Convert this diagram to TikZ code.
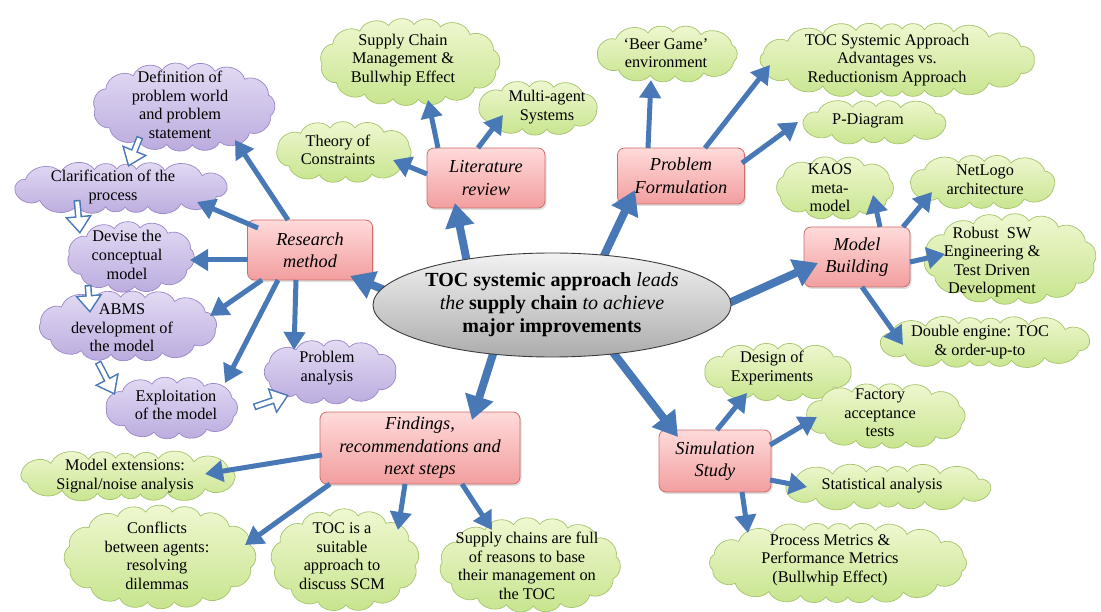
\documentclass[tikz,border=0pt]{standalone}
\usepackage{fontspec}
\setmainfont{Liberation Serif}
\usetikzlibrary{shapes.geometric,arrows.meta,calc,shadows}
\pgfdeclarelayer{background}
\pgfsetlayers{background,main}

\definecolor{arrowblue}{RGB}{72,120,182}
\definecolor{greentop}{RGB}{240,248,210}
\definecolor{greenbot}{RGB}{198,228,140}
\definecolor{greenedge}{RGB}{165,196,108}
\definecolor{purptop}{RGB}{228,220,244}
\definecolor{purpbot}{RGB}{186,170,222}
\definecolor{purpedge}{RGB}{155,135,200}
\definecolor{boxtop}{RGB}{255,218,218}
\definecolor{boxbot}{RGB}{242,158,158}
\definecolor{boxedge}{RGB}{205,110,110}
\definecolor{hubtop}{RGB}{242,242,242}
\definecolor{hubbot}{RGB}{172,172,172}
\definecolor{hubedge}{RGB}{60,60,60}

\newcommand\cloudfont{\fontsize{16.3}{18.6}\selectfont}
\newcommand\boxfont{\fontsize{18.3}{22.5}\selectfont\itshape}
\newcommand\hubfont{\fontsize{20}{23}\selectfont}

% cloud outline behind a named text node:
% #1 node, #2 offset of the cloud centre, #3 outer width, #4 outer height,
% #5 colour style, #6 angle of the first puff
\newcommand\puffs[6]{%
  \pgfmathsetmacro\cldA{#3/2-7}%
  \pgfmathsetmacro\cldB{#4/2-7}%
  \pgfmathsetmacro\cldH{((\cldA-\cldB)/(\cldA+\cldB))^2}%
  \pgfmathsetmacro\cldK{23*(\cldA-\cldB)/(\cldA+\cldB)}%
  \pgfmathsetmacro\cldP{pi*(\cldA+\cldB)*(1+3*\cldH/(10+sqrt(4-3*\cldH)))}%
  \pgfmathtruncatemacro\cldN{max(9,round(\cldP/28))}%
  \pgfmathsetmacro\cldS{#6+\cldK*sin(2*#6)}%
  \begin{pgfonlayer}{background}
  \path[#5] ($(#1)+(#2)+({\cldA*cos(\cldS)},{\cldB*sin(\cldS)})$)
    \foreach \k [evaluate=\k as \u using {\k*360/\cldN+#6},
                 evaluate=\u as \t using {\u+\cldK*sin(2*\u)}] in {1,...,\cldN}
      { to[bend left=60] ($(#1)+(#2)+({\cldA*cos(\t)},{\cldB*sin(\t)})$) } -- cycle;
  \end{pgfonlayer}}

\tikzset{
  cloudtext/.style={align=center, font=\cloudfont, inner sep=0pt},
  gfill/.style={draw=greenedge, line width=0.7pt, top color=greentop, bottom color=greenbot},
  pfill/.style={draw=purpedge, line width=0.7pt, top color=purptop, bottom color=purpbot},
  stagebox/.style={rectangle, rounded corners=7pt, draw=boxedge, line width=0.8pt,
    top color=boxtop, bottom color=boxbot, align=center, font=\boxfont, inner sep=2pt,
    drop shadow={opacity=0.25, shadow xshift=1.5pt, shadow yshift=-2pt}},
  hub/.style={ellipse, draw=hubedge, line width=0.9pt, top color=hubtop,
    bottom color=hubbot, align=center, font=\hubfont, inner sep=0pt},
  bigarrow/.style={draw=arrowblue, line width=8pt,
    -{Triangle[length=24pt,width=28pt]}},
  medarrow/.style={draw=arrowblue, line width=5pt,
    -{Triangle[length=18pt,width=21pt]}},
  hollowinner/.style={draw=white, line width=4pt, shorten >=2.56pt, shorten <=1.5pt,
    -{Triangle[length=13.9pt,width=20.1pt]}},
  hollowarrow/.style={draw=arrowblue, line width=7pt,
    -{Triangle[length=18pt,width=26pt]}, postaction={hollowinner}},
}

\begin{document}
\begin{tikzpicture}[x=1pt,y=-1pt]
\useasboundingbox (0,0) rectangle (1101,612);
\begin{pgfonlayer}{background}
\fill[white] (0,0) rectangle (1101,612);
\end{pgfonlayer}

% stages
\node[stagebox, minimum width=125pt, minimum height=60pt] (rm) at (310,250) {Research\\method};
\node[stagebox, minimum width=118pt, minimum height=60pt] (lr) at (486,178) {Literature\\review};
\node[stagebox, minimum width=127pt, minimum height=56pt] (pf) at (681,176) {Problem\\Formulation};
\node[stagebox, minimum width=106pt, minimum height=60pt] (mb) at (857,257) {Model\\Building};
\node[stagebox, minimum width=200pt, minimum height=72pt] (fr) at (420,448) {Findings,\\recommendations and\\next steps};
\node[stagebox, minimum width=112pt, minimum height=62pt] (ss) at (715,461) {Simulation\\Study};

% research method steps
\node[cloudtext] (def) at (180,105) {Definition of\\problem world\\and problem\\statement};
\node[cloudtext] (clar) at (113,187) {Clarification of the\\process};
\node[cloudtext] (dev) at (127,255) {Devise the\\conceptual\\model};
\node[cloudtext] (abms) at (122,328) {ABMS\\development of\\the model};
\node[cloudtext] (expl) at (176,405) {Exploitation\\of the model};
\node[cloudtext] (pa) at (327,368) {Problem\\analysis};
\puffs{def}{4,2}{192}{90}{pfill}{10}
\puffs{clar}{8,1}{228}{52}{pfill}{-5}
\puffs{dev}{4,2}{138}{73}{pfill}{20}
\puffs{abms}{6,-2}{190}{72}{pfill}{5}
\puffs{expl}{-4,3}{145}{64}{pfill}{15}
\puffs{pa}{3,4}{145}{66}{pfill}{0}

% literature review topics
\node[cloudtext] (scm) at (403,60) {Supply Chain\\Management \&\\Bullwhip Effect};
\node[cloudtext] (toc) at (338,150) {Theory of\\Constraints};
\node[cloudtext] (mas) at (547,107) {Multi-agent\\Systems};
\puffs{scm}{7,2}{190}{89}{gfill}{10}
\puffs{toc}{6,2}{148}{63}{gfill}{-10}
\puffs{mas}{-9,1}{132}{57}{gfill}{5}

% problem formulation topics
\node[cloudtext] (beer) at (666,53) {`Beer Game'\\environment};
\node[cloudtext] (toca) at (887,60) {TOC Systemic Approach\\Advantages vs.\\Reductionism Approach};
\node[cloudtext] (pdiag) at (868,121) {P-Diagram};
\puffs{beer}{2,1}{155}{58}{gfill}{15}
\puffs{toca}{10,0}{288}{76}{gfill}{0}
\puffs{pdiag}{7,1}{160}{45}{gfill}{10}

% model building topics
\node[cloudtext] (kaos) at (830,188) {KAOS\\meta-\\model};
\node[cloudtext] (net) at (985,180) {NetLogo\\architecture};
\node[cloudtext] (robust) at (992,262) {Robust\ \ SW\\Engineering \&\\Test Driven\\Development};
\node[cloudtext] (double) at (980,342) {Double engine: TOC\\\& order-up-to};
\puffs{kaos}{5,0}{130}{65}{gfill}{-15}
\puffs{net}{-2,2}{160}{55}{gfill}{10}
\puffs{robust}{18,-3}{182}{92}{gfill}{5}
\puffs{double}{5,0}{225}{52}{gfill}{-5}

% simulation study topics
\node[cloudtext] (doe) at (772,368) {Design of\\Experiments};
\node[cloudtext] (fat) at (880,413) {Factory\\acceptance\\tests};
\node[cloudtext] (stat) at (882,486) {Statistical analysis};
\node[cloudtext] (pm) at (830,560) {Process Metrics \&\\Performance Metrics\\(Bullwhip Effect)};
\puffs{doe}{6,4}{160}{60}{gfill}{0}
\puffs{fat}{6,3}{172}{67}{gfill}{12}
\puffs{stat}{6,1}{222}{45}{gfill}{5}
\puffs{pm}{8,3}{270}{82}{gfill}{-8}

% findings
\node[cloudtext] (me) at (125,476) {Model extensions:\\Signal/noise analysis};
\node[cloudtext] (ca) at (157,556) {Conflicts\\between agents:\\resolving\\dilemmas};
\node[cloudtext] (tocs) at (342,556) {TOC is a\\suitable\\approach to\\discuss SCM};
\node[cloudtext] (sc) at (527,566) {Supply chains are full\\of reasons to base\\their management on\\the TOC};
\puffs{me}{3,0}{232}{50}{gfill}{8}
\puffs{ca}{3,1}{200}{105}{gfill}{-12}
\puffs{tocs}{3,4}{155}{104}{gfill}{6}
\puffs{sc}{3,-1}{190}{96}{gfill}{15}

% centre of the central statement
\path (552,305) coordinate (c);

% from the central statement to the stages
\draw[bigarrow] ($(c)+(-150,-8)$) -- ($(rm)+(40,26)$);
\draw[bigarrow] ($(c)+(-84,-38)$) -- ($(lr)+(-31,25)$);
\draw[bigarrow] ($(c)+(48,-41)$) -- ($(pf)+(-46,14)$);
\draw[bigarrow] ($(c)+(168,2)$) -- ($(mb)+(-39,6)$);
\draw[bigarrow] ($(c)+(-52,27)$) -- ($(fr)+(52,-28)$);
\draw[bigarrow] ($(c)+(53,37)$) -- ($(ss)+(-37,-24)$);

\node[hub, minimum width=358pt, minimum height=104pt] (hubnode) at (c)
  {\textbf{TOC systemic approach} \textit{leads}\\
   \textit{the} \textbf{supply chain} \textit{to achieve}\\
   \textbf{major improvements}};

% research method
\draw[medarrow] ($(rm)+(-22,-30)$) -- ($(def)+(55,35)$);
\draw[medarrow] ($(rm)+(-52,-22)$) -- ($(clar)+(84,15)$);
\draw[medarrow] ($(rm)+(-62,10)$) -- ($(dev)+(63,5)$);
\draw[medarrow] ($(rm)+(-48,30)$) -- ($(abms)+(88,-12)$);
\draw[medarrow] ($(rm)+(-32,30)$) -- ($(expl)+(49,-22)$);
\draw[medarrow] ($(rm)+(-14,30)$) -- ($(pa)+(-33,-18)$);

% sequence of research steps
\draw[hollowarrow] ($(def)+(-40,32)$) -- ($(clar)+(15,-20)$);
\draw[hollowarrow] ($(clar)+(-36,13)$) -- ($(dev)+(-47,-21)$);
\draw[hollowarrow] ($(dev)+(-39,30)$) -- ($(abms)+(-32,-15)$);
\draw[hollowarrow] ($(abms)+(-24,34)$) -- ($(expl)+(-61,-10)$);
\draw[hollowarrow] ($(expl)+(78,2)$) -- ($(pa)+(-38,27)$);

% literature review
\draw[medarrow] ($(lr)+(-48,-30)$) -- ($(scm)+(25,40)$);
\draw[medarrow] ($(lr)+(-59,-4)$) -- ($(toc)+(55,10)$);
\draw[medarrow] ($(lr)+(-8,-30)$) -- ($(mas)+(-44,8)$);

% problem formulation
\draw[medarrow] ($(pf)+(-33,-28)$) -- ($(beer)+(-15,27)$);
\draw[medarrow] ($(pf)+(24,-28)$) -- ($(toca)+(-117,5)$);
\draw[medarrow] ($(pf)+(61,-13)$) -- ($(pdiag)+(-70,1)$);

% model building
\draw[medarrow] ($(mb)+(23,-30)$) -- ($(kaos)+(43,7)$);
\draw[medarrow] ($(mb)+(46,-30)$) -- ($(net)+(-53,12)$);
\draw[medarrow] ($(mb)+(53,5)$) -- ($(robust)+(-47,-8)$);
\draw[medarrow] ($(mb)+(5,30)$) -- ($(double)+(-77,3)$);

% simulation study
\draw[medarrow] ($(ss)+(2,-31)$) -- ($(doe)+(-25,25)$);
\draw[medarrow] ($(ss)+(55,-16)$) -- ($(fat)+(-63,4)$);
\draw[medarrow] ($(ss)+(55,19)$) -- ($(stat)+(-75,1)$);
\draw[medarrow] ($(ss)+(27,31)$) -- ($(pm)+(-82,-27)$);

% findings
\draw[medarrow] ($(fr)+(-98,7)$) -- ($(me)+(80,-2)$);
\draw[medarrow] ($(fr)+(-90,36)$) -- ($(ca)+(88,-11)$);
\draw[medarrow] ($(fr)+(-15,36)$) -- ($(tocs)+(56,-26)$);
\draw[medarrow] ($(fr)+(42,36)$) -- ($(sc)+(-35,-36)$);
\end{tikzpicture}
\end{document}
